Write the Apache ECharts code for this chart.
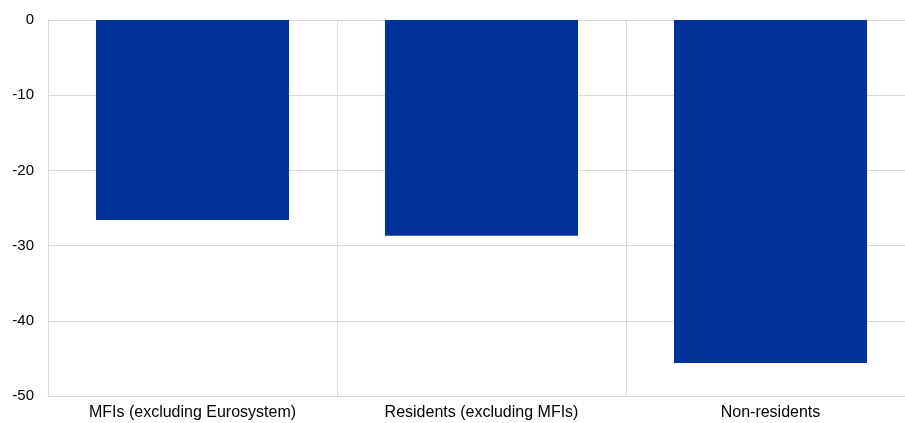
<!DOCTYPE html>
<html>
<head>
<meta charset="utf-8">
<style>
  html, body { margin: 0; padding: 0; background: #fff; overflow: hidden; }
  /* the plot runs slightly past the right edge of the page */
  #chart { width: 915px; height: 423px; }
</style>
<script src="https://cdn.jsdelivr.net/npm/echarts@6/dist/echarts.min.js"></script>
</head>
<body>
<div id="chart"></div>
<script>
// Sectors and their values
const categories = ['MFIs (excluding Eurosystem)', 'Residents (excluding MFIs)', 'Non-residents'];
const values = [-26.6, -28.7, -45.6];
const yTicks = { min: -50, max: 0, interval: 10 };

const gridColor = '#d9d9d9';
const chart = echarts.init(document.getElementById('chart'), null, { renderer: 'canvas' });
chart.setOption({
  animation: false,
  textStyle: { fontFamily: '"Liberation Sans", Arial, sans-serif' },
  grid: { left: 48, top: 20, right: 0, bottom: 27, containLabel: false },
  xAxis: {
    type: 'category',
    data: categories,
    position: 'bottom',
    axisLine: { onZero: false, lineStyle: { color: gridColor } },
    axisTick: { show: false },
    splitLine: { show: true, lineStyle: { color: gridColor } },
    axisLabel: { color: '#000', fontSize: 16, margin: 9, interval: 0 }
  },
  yAxis: {
    type: 'value',
    min: yTicks.min,
    max: yTicks.max,
    interval: yTicks.interval,
    axisLine: { show: true, lineStyle: { color: gridColor } },
    axisTick: { show: false },
    splitLine: { lineStyle: { color: gridColor } },
    axisLabel: { color: '#000', fontSize: 15, margin: 14 }
  },
  series: [{
    type: 'bar',
    data: values,
    barWidth: '66.8%',
    itemStyle: { color: '#003299' }
  }]
});
</script>
</body>
</html>
